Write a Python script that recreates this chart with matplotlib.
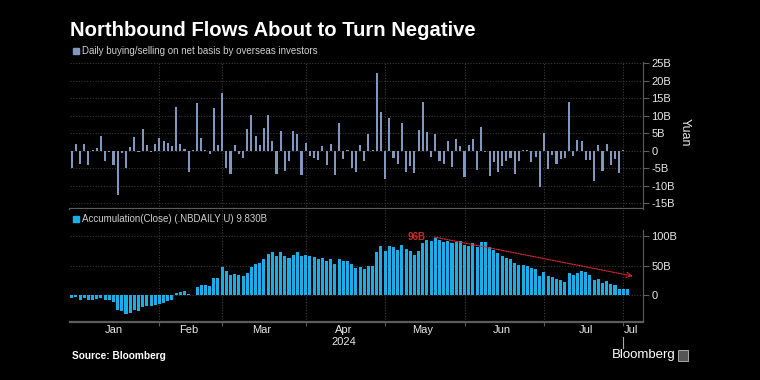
import matplotlib
matplotlib.use('Agg')
import matplotlib.pyplot as plt
import numpy as np
from matplotlib.patches import Rectangle
from matplotlib.transforms import blended_transform_factory

plt.rcParams['font.family'] = ['Liberation Sans', 'DejaVu Sans']

# daily net buying/selling by overseas investors, billion yuan
daily = [
    # Jan
    -5.1, 1.8, -3.9, 2.0, -4.2, 0.2, 0.6, 4.2, -2.9, -0.3, -4.0, -12.8, -0.6, -4.9, 1.1, 3.9, -0.4, 6.3, 1.6, -0.3, 1.8,
    # Feb
    3.7, 2.7, 2.3, 1.4, 12.5, 1.8, 0.5, -6.2, 0.1, 13.5, 3.7, 0.1, -1.1, 12.2, 1.6,
    # Mar
    16.5, -5.1, -6.8, 1.6, -1.1, -2.0, 6.1, 10.1, 4.2, 1.6, 6.5, 10.3, 2.8, -6.6, 5.6, -5.9, -3.0, 5.6, 4.7, -7.0,
    # Apr
    2.3, -1.5, -2.2, -2.8, 1.2, -4.0, 2.0, -7.1, 8.0, -2.5, 0.1, -5.1, -6.0, 1.5, -2.9, 4.6, 0.1, 22.3, 10.9,
    # May
    -8.2, 9.2, -2.0, -3.9, 8.0, -6.0, -4.4, -6.3, 6.0, 13.8, 5.2, -1.8, 4.8, -3.0, -3.9, 2.7, -4.8, 3.4, 1.3,
    # Jun
    -7.6, 1.6, 3.3, -5.5, 6.7, -0.5, -7.2, -3.2, -6.1, -4.3, -3.0, -2.0, -6.8, -2.9, 0.1, 0.1, -3.2, -1.8, -10.5,
    # Jul
    4.9, -5.3, -1.3, -3.7, -2.5, -2.0, 13.9, -1.5, 3.0, 2.7, -2.8, -2.8, -8.6, 1.5, -5.7, 2.0, -4.0, -2.4, -6.3, 0.1, 0.0,
]

# accumulated flows (close), billion yuan
accum = [
    # Jan
    -4.4, -2.7, -7.7, -4.4, -9.3, -9.3, -6.6, -5.0, -7.7, -8.8, -12.0, -25.8, -26.4, -31.9, -30.8, -24.7, -27.5, -20.9, -19.2, -18.7, -17.6,
    # Feb
    -14.8, -13.7, -9.9, -8.8, 3.8, 5.5, 6.6, 1.1, 0.5, 13.7, 17.0, 17.6, 14.8, 28.6, 29.1,
    # Mar
    46.7, 41.2, 33.5, 35.2, 33.5, 31.9, 37.4, 47.8, 52.2, 53.8, 60.4, 70.3, 73.6, 66.5, 72.5, 65.9, 63.2, 68.1, 73.6, 65.4,
    # Apr
    67.6, 65.9, 63.7, 61.5, 62.1, 57.7, 60.4, 52.7, 61.5, 57.7, 57.7, 52.2, 46.2, 47.8, 44.5, 49.5, 49.5, 72.5, 82.4,
    # May
    74.2, 83.5, 81.3, 76.9, 85.2, 78.6, 74.7, 67.6, 74.2, 87.9, 93.4, 90.7, 96.2, 93.4, 89.0, 91.8, 87.9, 89.0, 90.7,
    # Jun
    85.2, 83.5, 87.9, 81.3, 89.0, 89.0, 80.8, 76.9, 71.4, 65.9, 63.2, 60.4, 53.8, 50.5, 50.5, 49.5, 46.2, 44.0, 33.0,
    # Jul
    38.5, 33.0, 31.3, 27.5, 24.7, 22.0, 36.8, 34.1, 37.4, 40.1, 38.5, 34.1, 25.8, 27.5, 20.9, 23.1, 19.2, 16.5, 9.9, 9.9, 9.9,
]

months = ['Jan', 'Feb', 'Mar', 'Apr', 'May', 'Jun', 'Jul']
month_days = [21, 15, 20, 19, 19, 19, 21]
top_ticks = [25, 20, 15, 10, 5, 0, -5, -10, -15]
top_labels = ['25B', '20B', '15B', '10B', '5B', '0', '-5B', '-10B', '-15B']
bot_ticks = [100, 50, 0]
bot_labels = ['100B', '50B', '0']

BG = 'black'
GRID = '#3a3a3a'
SPINE = '#5c5c5c'
TXT = '#e8e8e8'
DAILY_C = '#8297be'
ACC_C = '#1aaee8'
RED = '#d0282b'

x = np.arange(len(daily))
starts = np.concatenate([[0], np.cumsum(month_days)[:-1]])
centers = starts + (np.array(month_days) - 1) / 2.0
last_tick = 132

fig = plt.figure(figsize=(7.6, 3.8), dpi=100, facecolor=BG)
W, H = 760.0, 380.0
ax1 = fig.add_axes([70 / W, 1 - 209 / H, 573 / W, 147 / H], facecolor=BG)
ax2 = fig.add_axes([70 / W, 1 - 322 / H, 573 / W, 113 / H], facecolor=BG)

for ax in (ax1, ax2):
    ax.set_xlim(-0.4, 136.7)
    for s in ('top', 'left'):
        ax.spines[s].set_visible(False)
    ax.spines['right'].set_color(SPINE)
    ax.spines['bottom'].set_color(SPINE)
    ax.spines['bottom'].set_linewidth(1.6)
    ax.yaxis.tick_right()
    ax.tick_params(axis='y', colors=SPINE, labelcolor=TXT, labelsize=8, length=4, width=0.8, pad=2)
    ax.set_axisbelow(True)
    ax.grid(axis='y', color=GRID, linestyle=(0, (1, 1.5)), linewidth=0.8)
    for s in list(starts[1:]) + [last_tick]:
        ax.axvline(s, color=GRID, linestyle=(0, (1, 1.5)), linewidth=0.8, zorder=0)

# top panel: daily flows
ax1.bar(x, daily, width=0.5, color=DAILY_C, linewidth=0)
ax1.set_ylim(-16.7, 25.3)
ax1.set_yticks(top_ticks)
ax1.set_yticklabels(top_labels)
ax1.set_xticks([])
ax1.text(1.072, 0.52, 'Yuan', transform=ax1.transAxes, rotation=-90, color=TXT,
         fontsize=9, ha='center', va='center')

# bottom panel: accumulation
ax2.bar(x, accum, width=0.72, color=ACC_C, linewidth=0)
ax2.set_ylim(-45.8, 145.8)
ax2.set_yticks(bot_ticks)
ax2.set_yticklabels(bot_labels)
ax2.spines['right'].set_bounds(-45.8, 110)
ax2.set_xticks(list(starts[1:]) + [last_tick])
ax2.set_xticklabels([])
ax2.tick_params(axis='x', colors=SPINE, length=3, width=0.8)
ax2.set_xticks(centers, minor=True)
ax2.set_xticklabels(months, minor=True)
ax2.tick_params(axis='x', which='minor', length=0, labelcolor=TXT, labelsize=8, pad=2)
trans = blended_transform_factory(ax2.transData, ax2.transAxes)
ax2.text(centers[3], -0.177, '2024', transform=trans, color=TXT, fontsize=8, ha='center', va='center')
# last date marker
ax2.text(last_tick, -0.03, months[-1], transform=trans, color=TXT, fontsize=8, ha='left', va='top')
ax2.plot([last_tick, last_tick], [-0.13, -0.23], transform=trans, color='#aaaaaa', lw=0.8, clip_on=False)

# peak annotation and trend arrow
peak = int(np.argmax(accum))
ax2.annotate('', xy=(134.3, 32), xytext=(peak - 0.2, accum[peak] + 2),
             arrowprops=dict(arrowstyle='->', color=RED, lw=0.9, linestyle=(0, (1, 1)),
                             shrinkA=0, shrinkB=0, mutation_scale=9))
ax2.text(peak - 2.3, accum[peak] + 2, '%dB' % round(accum[peak]), color=RED, fontsize=7,
         fontweight='bold', ha='right', va='center')

# titles, legends, footer
fig.text(70 / W, 1 - 36 / H, 'Northbound Flows About to Turn Negative', color='white',
         fontsize=14.6, fontweight='bold', ha='left', va='baseline')
fig.patches.append(Rectangle((73 / W, 1 - 54 / H), 6 / W, 6 / H, transform=fig.transFigure,
                             color=DAILY_C, figure=fig))
fig.text(82 / W, 1 - 51 / H, 'Daily buying/selling on net basis by overseas investors', color='#cfcfcf',
         fontsize=7, ha='left', va='center')
fig.patches.append(Rectangle((73 / W, 1 - 222 / H), 6 / W, 6 / H, transform=fig.transFigure,
                             color=ACC_C, figure=fig))
fig.text(82 / W, 1 - 219 / H, 'Accumulation(Close) (.NBDAILY U) 9.830B', color='#cfcfcf',
         fontsize=7, ha='left', va='center')
fig.text(72 / W, 1 - 356 / H, 'Source: Bloomberg', color='white', fontsize=7.3,
         fontweight='bold', ha='left', va='center')
fig.text(612 / W, 1 - 355 / H, 'Bloomberg', color='white', fontsize=9.5,
         ha='left', va='center')
fig.patches.append(Rectangle((678 / W, 1 - 361 / H), 10 / W, 11 / H, transform=fig.transFigure,
                             facecolor='#555555', edgecolor='#bbbbbb', lw=0.6, figure=fig))

fig.savefig('out.png', dpi=100, facecolor=BG)
